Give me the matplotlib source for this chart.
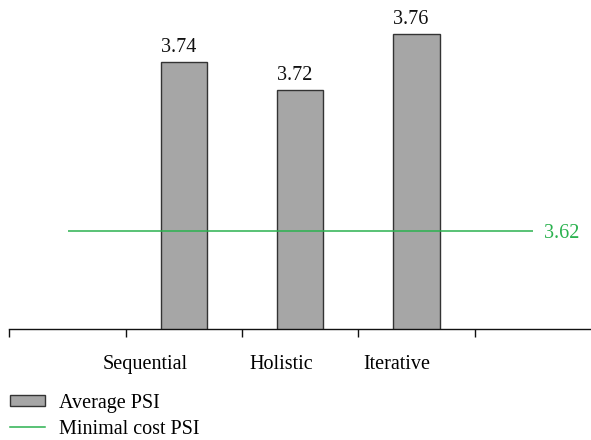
import matplotlib
matplotlib.use('Agg')
import matplotlib.pyplot as plt
from matplotlib.patches import Patch
from matplotlib.lines import Line2D

categories = ['Sequential', 'Holistic', 'Iterative']
average_psi = [3.74, 3.72, 3.76]
minimal_cost_psi = 3.62
bar_positions = [1, 2, 3]
label_positions = [0.667, 1.839, 2.828]
tick_positions = [-0.5, 0.5, 1.5, 2.5, 3.5]

plt.rcParams['font.family'] = ['Liberation Serif', 'DejaVu Serif']

BAR_COLOR = '#a6a6a6'
EDGE = '#333333'
GREEN = '#2bb24f'
FS = 14.5

fig = plt.figure(figsize=(5.91, 4.40), dpi=100)
ax = fig.add_axes([9.4 / 591, 111 / 440, (591 - 9.4) / 591, 0.734])

bar_w = 0.40
ax.bar(bar_positions, average_psi, width=bar_w, color=BAR_COLOR,
       edgecolor=EDGE, linewidth=1.0, zorder=2)
ax.hlines(minimal_cost_psi, 0, 4, color=GREEN, linewidth=1.1, zorder=3)
ax.text(4.095, minimal_cost_psi, f'{minimal_cost_psi:.2f}', color=GREEN,
        fontsize=FS, ha='left', va='center_baseline')

for x, v in zip(bar_positions, average_psi):
    ax.annotate(f'{v:.2f}', xy=(x - bar_w / 2, v), xytext=(0, 7.5),
                textcoords='offset points', ha='left', va='baseline',
                fontsize=FS, color='#111111')

ax.set_xlim(-0.5, 4.5)
ax.set_ylim(3.55, 3.78)
for s in ['top', 'right', 'left']:
    ax.spines[s].set_visible(False)
ax.spines['bottom'].set_linewidth(1.0)
ax.spines['bottom'].set_color('#111111')
ax.set_yticks([])
ax.set_xticks(tick_positions)
ax.set_xticklabels([''] * len(tick_positions))
ax.tick_params(axis='x', which='major', direction='out', length=5.5,
               width=1.0, color='#111111')
ax.set_xticks(label_positions, minor=True)
ax.set_xticklabels(categories, minor=True, fontsize=FS)
ax.tick_params(axis='x', which='minor', length=0, pad=19)

handles = [Patch(facecolor=BAR_COLOR, edgecolor=EDGE, linewidth=1.0),
           Line2D([0], [0], color=GREEN, linewidth=1.1)]
fig.legend(handles, ['Average PSI', 'Minimal cost PSI'],
           loc='upper left', bbox_to_anchor=(10 / 591, 1 - 394 / 440),
           frameon=False, fontsize=FS, borderpad=0, borderaxespad=0,
           handlelength=1.75, handleheight=0.45, handletextpad=0.7,
           labelspacing=0.33)

fig.savefig('out.png', dpi=100)
